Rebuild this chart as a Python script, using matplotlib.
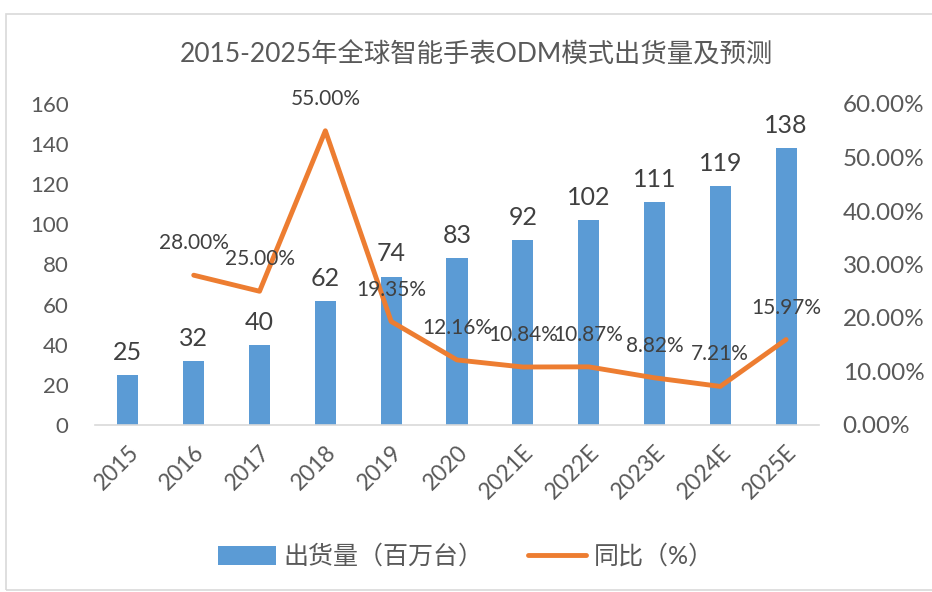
import matplotlib
matplotlib.use("Agg")
import matplotlib.pyplot as plt
from matplotlib.patches import Rectangle
from matplotlib.lines import Line2D
from matplotlib.patches import Patch

plt.rcParams['font.family'] = ['Lato', 'Noto Sans CJK SC', 'DejaVu Sans']

categories = ["2015", "2016", "2017", "2018", "2019", "2020", "2021E", "2022E", "2023E", "2024E", "2025E"]
shipments = [25, 32, 40, 62, 74, 83, 92, 102, 111, 119, 138]
yoy_years = categories[1:]
yoy = [28.00, 25.00, 55.00, 19.35, 12.16, 10.84, 10.87, 8.82, 7.21, 15.97]
left_ticks = [0, 20, 40, 60, 80, 100, 120, 140, 160]
right_ticks = [0, 10, 20, 30, 40, 50, 60]

TXT = '#595959'
BLUE = '#5B9BD5'
ORANGE = '#ED7D31'

fig = plt.figure(figsize=(9.32, 5.92), dpi=100)
fig.patches.append(Rectangle((6/932, 2/592), 940/932, 576/592, transform=fig.transFigure,
                             fill=False, edgecolor='#D9D9D9', linewidth=1.2))
ax = fig.add_axes([95/932, 1-425/592, (819-95)/932, (425-104)/592])
x = list(range(len(categories)))
ax.bar(x, shipments, width=0.32, color=BLUE, zorder=2)
ax.set_xlim(-0.5, len(categories)-0.5)
ax.set_ylim(0, 160)
ax.set_yticks(left_ticks)
ax.set_yticklabels([str(t) for t in left_ticks], fontsize=16, color=TXT)
ax.set_xticks(x)
ax.set_xticklabels(categories, rotation=45, ha='right', rotation_mode='anchor', fontsize=16.5, color=TXT)
ax.tick_params(axis='y', length=0, pad=19)
ax.tick_params(axis='x', length=0, pad=12)
for s in ['top', 'right', 'left']:
    ax.spines[s].set_visible(False)
ax.spines['bottom'].set_color('#D9D9D9')
ax.spines['bottom'].set_linewidth(1.2)
for xi, v in zip(x, shipments):
    ax.annotate(str(v), (xi, v), xytext=(0, 8), textcoords='offset points',
                ha='center', va='bottom', fontsize=18, color='#404040')

ax2 = ax.twinx()
xi2 = [categories.index(c) for c in yoy_years]
ax2.plot(xi2, yoy, color=ORANGE, linewidth=3.5, solid_capstyle='round', solid_joinstyle='round', zorder=3)
ax2.set_ylim(0, 60)
ax2.set_yticks(right_ticks)
ax2.set_yticklabels([f"{t:.2f}%" for t in right_ticks], fontsize=17.5, color=TXT)
ax2.tick_params(axis='y', length=0, pad=17)
for s in ['top', 'right', 'left', 'bottom']:
    ax2.spines[s].set_visible(False)
for xx, v in zip(xi2, yoy):
    ax2.annotate(f"{v:.2f}%", (xx, v), xytext=(0, 23), textcoords='offset points',
                 ha='center', va='center', fontsize=15, color='#404040')
ax2.set_xlim(-0.5, len(categories)-0.5)

fig.text(476/932, 1-55/592, "2015-2025年全球智能手表ODM模式出货量及预测", ha='center', va='center',
         fontsize=19, color=TXT)

handles = [Patch(facecolor=BLUE, edgecolor='none'), Line2D([0], [0], color=ORANGE, linewidth=3.5, solid_capstyle='round')]
fig.legend(handles, ["出货量（百万台）", "同比（%）"], loc='center', bbox_to_anchor=(466/932, 1-556/592),
           ncol=2, frameon=False, fontsize=18, labelcolor=TXT, handlelength=2.3, handleheight=0.8,
           columnspacing=1.8, handletextpad=0.3)

fig.savefig("out.png", dpi=100)
